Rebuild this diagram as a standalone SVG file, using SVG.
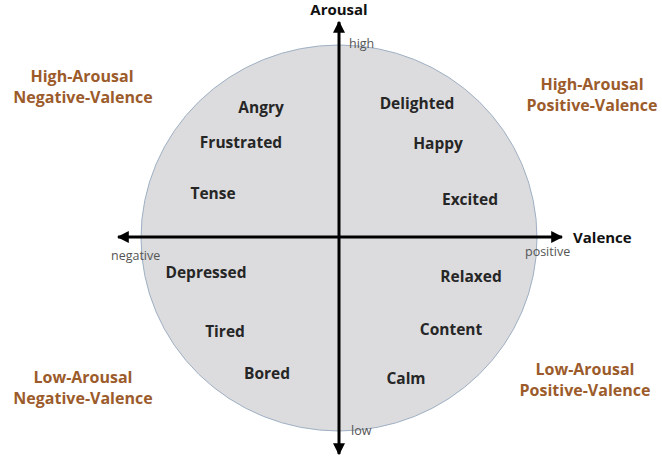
<svg xmlns="http://www.w3.org/2000/svg" width="662" height="460" viewBox="0 0 662 460">
  <style>
    .emo { font-family: "Open Sans", "Noto Sans", sans-serif; font-weight: bold; font-size: 15.5px; fill: #262626; text-anchor: middle; }
    .quad { font-family: "Open Sans", "Noto Sans", sans-serif; font-weight: bold; font-size: 16px; fill: #9c5b2b; text-anchor: middle; }
    .axis { font-family: "Open Sans", "Noto Sans", sans-serif; font-weight: bold; font-size: 15px; fill: #111; }
    .tick { font-family: "Open Sans", "Noto Sans", sans-serif; font-size: 12.5px; fill: #555; }
    .ax { stroke: #000; stroke-width: 3; fill: none; }
  </style>
  <defs>
    <marker id="head" viewBox="0 0 10 10" refX="9" refY="5" markerWidth="4" markerHeight="4" orient="auto" markerUnits="strokeWidth">
      <path d="M0,0 L10,5 L0,10 Z" fill="#000"/>
    </marker>
  </defs>
  <rect width="662" height="460" fill="#fff"/>

  <!-- circumplex disc -->
  <g id="disc">
    <ellipse cx="339" cy="238" rx="198" ry="193" fill="#dcdcde" stroke="#9fb0c4" stroke-width="1"/>
  </g>

  <!-- axes -->
  <g id="connectors">
    <line class="ax" x1="339" y1="238" x2="339" y2="22" marker-end="url(#head)"/>
    <line class="ax" x1="339" y1="236" x2="339" y2="454" marker-end="url(#head)"/>
    <line class="ax" x1="340" y1="237" x2="118" y2="237" marker-end="url(#head)"/>
    <line class="ax" x1="338" y1="237" x2="562" y2="237" marker-end="url(#head)"/>
  </g>

  <!-- axis titles and pole labels -->
  <g id="axis-labels">
    <text class="axis" x="339" y="15" text-anchor="middle">Arousal</text>
    <text class="axis" x="573" y="243">Valence</text>
    <text class="tick" x="349" y="48">high</text>
    <text class="tick" x="351" y="435">low</text>
    <text class="tick" x="111" y="260">negative</text>
    <text class="tick" x="525" y="256">positive</text>
  </g>

  <!-- quadrant captions -->
  <g id="q-hanv">
    <text class="quad" x="82" y="82">High-Arousal</text>
    <text class="quad" x="83" y="103">Negative-Valence</text>
  </g>
  <g id="q-hapv">
    <text class="quad" x="592" y="90">High-Arousal</text>
    <text class="quad" x="592" y="111">Positive-Valence</text>
  </g>
  <g id="q-lanv">
    <text class="quad" x="83" y="383">Low-Arousal</text>
    <text class="quad" x="83" y="404">Negative-Valence</text>
  </g>
  <g id="q-lapv">
    <text class="quad" x="585" y="375">Low-Arousal</text>
    <text class="quad" x="585" y="396">Positive-Valence</text>
  </g>

  <!-- emotion words -->
  <g id="angry"><text class="emo" x="261" y="113">Angry</text></g>
  <g id="frustrated"><text class="emo" x="241" y="148">Frustrated</text></g>
  <g id="tense"><text class="emo" x="213" y="199">Tense</text></g>
  <g id="delighted"><text class="emo" x="417" y="109">Delighted</text></g>
  <g id="happy"><text class="emo" x="438" y="149">Happy</text></g>
  <g id="excited"><text class="emo" x="470" y="205">Excited</text></g>
  <g id="depressed"><text class="emo" x="206" y="278">Depressed</text></g>
  <g id="tired"><text class="emo" x="225" y="337">Tired</text></g>
  <g id="bored"><text class="emo" x="267" y="379">Bored</text></g>
  <g id="relaxed"><text class="emo" x="471" y="282">Relaxed</text></g>
  <g id="content"><text class="emo" x="451" y="335">Content</text></g>
  <g id="calm"><text class="emo" x="406" y="384">Calm</text></g>
</svg>
